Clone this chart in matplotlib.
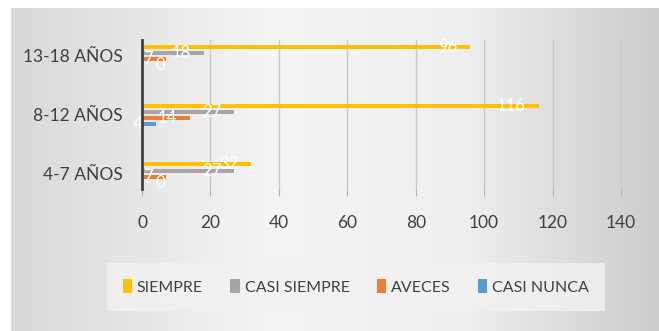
import matplotlib
matplotlib.use('Agg')
import matplotlib.pyplot as plt
from matplotlib.colors import LinearSegmentedColormap
import numpy as np

plt.rcParams['font.family'] = ['Lato', 'DejaVu Sans']

# data
categories = ['4-7 AÑOS', '8-12 AÑOS', '13-18 AÑOS']
series_names = ['SIEMPRE', 'CASI SIEMPRE', 'AVECES', 'CASI NUNCA']
siempre = [32, 116, 96]
casi_siempre = [27, 27, 18]
aveces = [7, 14, 7]
casi_nunca = [0, 4, 0]
series = [siempre, casi_siempre, aveces, casi_nunca]
colors = ['#FFC000', '#A5A5A5', '#ED7D31', '#5B9BD5']
xticks = [0, 20, 40, 60, 80, 100, 120, 140]

fig = plt.figure(figsize=(6.59, 3.31), dpi=100, facecolor='white')

# gray gradient panel behind the chart
bg = fig.add_axes([11 / 659, 0, 1 - 11 / 659, 1 - 8 / 331], zorder=-10)
cmap = LinearSegmentedColormap.from_list(
    'panel', [(0, '#d9d9d9'), (0.4, '#f5f5f5'), (0.7, '#efefef'), (1, '#cdcdcd')])
grad = np.tile(np.linspace(0, 1, 300), (50, 1))
bg.imshow(grad, cmap=cmap, aspect='auto', extent=[0, 1, 0, 1])
bg.axis('off')

ax = fig.add_axes([142 / 659, 1 - 189 / 331, 480 / 659, 149 / 331])
ax.patch.set_alpha(0)

y = np.arange(len(categories))
slot = 0.105
bar_h = 0.068
for i, (name, vals, c) in enumerate(zip(series_names, series, colors)):
    pos = y + (1.5 - i) * slot
    ax.barh(pos, vals, height=bar_h, color=c, label=name, zorder=3)
    for p, v in zip(pos, vals):
        if v > 0:
            ax.annotate(str(v), (v, p), xytext=(-13, 0), textcoords='offset pixels',
                        ha='right', va='center', color='white', fontsize=12, zorder=4)
        else:
            ax.annotate(str(v), (v, p), xytext=(14, 0), textcoords='offset pixels',
                        ha='left', va='center', color='white', fontsize=12, zorder=4)

ax.set_xlim(0, 140.3)
ax.set_ylim(-0.26, 2.27)
ax.set_xticks(xticks)
ax.set_yticks(y)
ax.set_yticklabels(categories)
ax.grid(axis='x', color='#c8c8c8', linewidth=1, zorder=0)
for s in ['top', 'right', 'bottom']:
    ax.spines[s].set_visible(False)
ax.spines['left'].set_color('#404040')
ax.spines['left'].set_linewidth(2)
ax.spines['left'].set_zorder(5)
ax.tick_params(axis='x', length=5, color='#b0b0b0', pad=14, labelsize=12.5, labelcolor='#404040')
ax.tick_params(axis='y', length=0, pad=14, labelsize=12.5, labelcolor='#404040')

leg = fig.legend(loc='center', bbox_to_anchor=(0.54, 0.133), ncol=4, fontsize=11.5,
                 frameon=True, fancybox=False, handlelength=0.6, handleheight=0.9,
                 handletextpad=0.3, columnspacing=1.7, borderpad=1.0, borderaxespad=0)
leg.get_frame().set_facecolor('#f2f2f2')
leg.get_frame().set_edgecolor('none')
for t in leg.get_texts():
    t.set_color('#404040')

fig.savefig('out.png', dpi=100, facecolor=fig.get_facecolor())
